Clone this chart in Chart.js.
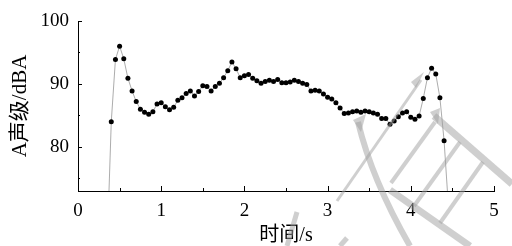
<!DOCTYPE html>
<html>
<head>
<meta charset="utf-8">
<script src="https://cdn.jsdelivr.net/npm/chart.js@4.4.1/dist/chart.umd.min.js"></script>
<style>
  html, body { margin: 0; padding: 0; background: #fff; }
  #wrap { width: 512px; height: 246px; }
</style>
</head>
<body>
<div id="wrap"><canvas id="chart" width="512" height="246"></canvas></div>
<script>
// time in seconds
const times = [
  0.35, 0.40, 0.45, 0.50, 0.55, 0.60, 0.65, 0.70, 0.75, 0.80,
  0.85, 0.90, 0.95, 1.00, 1.05, 1.10, 1.15, 1.20, 1.25, 1.30,
  1.35, 1.40, 1.45, 1.50, 1.55, 1.60, 1.65, 1.70, 1.75, 1.80,
  1.85, 1.90, 1.95, 2.00, 2.05, 2.10, 2.15, 2.20, 2.25, 2.30,
  2.35, 2.40, 2.45, 2.50, 2.55, 2.60, 2.65, 2.70, 2.75, 2.80,
  2.85, 2.90, 2.95, 3.00, 3.05, 3.10, 3.15, 3.20, 3.25, 3.30,
  3.35, 3.40, 3.45, 3.50, 3.55, 3.60, 3.65, 3.70, 3.75, 3.80,
  3.85, 3.90, 3.95, 4.00, 4.05, 4.10, 4.15, 4.20, 4.25, 4.30,
  4.35, 4.40, 4.45
];
// A-weighted level, dBA
const levels = [
  64.0, 84.0, 93.9, 96.0, 94.0, 90.9, 88.9, 87.2, 86.0, 85.5,
  85.2, 85.6, 86.8, 87.0, 86.4, 85.9, 86.3, 87.4, 87.8, 88.5,
  88.9, 88.1, 88.8, 89.7, 89.6, 88.9, 89.6, 90.1, 91.0, 92.1,
  93.5, 92.4, 91.0, 91.3, 91.5, 90.9, 90.5, 90.1, 90.4, 90.6,
  90.4, 90.7, 90.2, 90.2, 90.3, 90.6, 90.4, 90.1, 89.9, 88.9,
  89.0, 88.9, 88.4, 87.9, 87.6, 87.0, 86.2, 85.3, 85.4, 85.6,
  85.7, 85.5, 85.7, 85.6, 85.4, 85.2, 84.5, 84.5, 83.6, 84.1,
  84.8, 85.4, 85.6, 84.7, 84.4, 84.9, 87.7, 91.0, 92.5, 91.6,
  87.8, 81.0, 71.0
];

const xTicks = [0, 1, 2, 3, 4, 5];
const xMinorTicks = [0.5, 1.5, 2.5, 3.5, 4.5];
const yTicks = [80, 90, 100];
const yMinorTicks = [75, 85, 95];

const serif = "'Liberation Serif', 'Times New Roman', 'Noto Sans CJK SC', serif";

// inward ticks, like the original plot
const innerTicks = {
  id: "innerTicks",
  afterDraw(chart) {
    const { ctx, chartArea, scales } = chart;
    ctx.save();
    ctx.strokeStyle = "#000";
    ctx.lineWidth = 1;
    ctx.beginPath();
    xTicks.forEach((v) => {
      const x = Math.round(scales.x.getPixelForValue(v)) + 0.5;
      ctx.moveTo(x, chartArea.bottom);
      ctx.lineTo(x, chartArea.bottom - 5);
    });
    xMinorTicks.forEach((v) => {
      const x = Math.round(scales.x.getPixelForValue(v)) + 0.5;
      ctx.moveTo(x, chartArea.bottom);
      ctx.lineTo(x, chartArea.bottom - 3);
    });
    yTicks.forEach((v) => {
      const y = Math.round(scales.y.getPixelForValue(v)) + 0.5;
      ctx.moveTo(chartArea.left, y);
      ctx.lineTo(chartArea.left + 4, y);
    });
    yMinorTicks.forEach((v) => {
      const y = Math.round(scales.y.getPixelForValue(v)) + 0.5;
      ctx.moveTo(chartArea.left, y);
      ctx.lineTo(chartArea.left + 2, y);
    });
    ctx.stroke();
    ctx.restore();
  },
};

// faint grey logo that sits over the lower right of the plot
const watermark = {
  id: "watermark",
  afterDraw(chart) {
    const ctx = chart.ctx;
    ctx.save();
    ctx.strokeStyle = "rgba(160,160,160,0.5)";
    ctx.fillStyle = "rgba(160,160,160,0.5)";
    ctx.lineCap = "butt";
    const seg = (w, pts) => {
      ctx.lineWidth = w;
      ctx.beginPath();
      ctx.moveTo(pts[0], pts[1]);
      for (let i = 2; i < pts.length; i += 2) ctx.lineTo(pts[i], pts[i + 1]);
      ctx.stroke();
    };
    // long thin arrow
    seg(3, [421, 80, 337, 201]);
    ctx.beginPath();
    ctx.moveTo(424, 72); ctx.lineTo(416, 88); ctx.lineTo(411, 82); ctx.closePath();
    ctx.fill();
    // curved stroke
    ctx.lineWidth = 6;
    ctx.beginPath();
    ctx.moveTo(358, 122);
    ctx.quadraticCurveTo(372, 180, 410, 246);
    ctx.stroke();
    ctx.beginPath();
    ctx.moveTo(353, 120); ctx.lineTo(366, 114); ctx.lineTo(361, 132); ctx.closePath();
    ctx.fill();
    // ladder rails
    seg(7, [434, 116, 512, 184]);
    seg(7, [390, 190, 470, 246]);
    ctx.beginPath();
    ctx.moveTo(430, 112); ctx.lineTo(440, 108); ctx.lineTo(438, 124); ctx.closePath();
    ctx.fill();
    // rungs
    seg(4, [435, 122, 391, 183]);
    seg(4, [460, 142, 414, 206]);
    seg(4, [483, 162, 440, 223]);
    // small pieces near the axis title
    seg(5, [297, 212, 287, 246]);
    seg(5, [347, 238, 340, 246]);
    ctx.restore();
  },
};

new Chart(document.getElementById("chart"), {
  type: "scatter",
  data: {
    datasets: [
      {
        data: times.map((t, i) => ({ x: t, y: levels[i] })),
        showLine: true,
        borderColor: "#888",
        borderWidth: 0.7,
        pointRadius: 2.5,
        pointHoverRadius: 2.5,
        pointBackgroundColor: "#000",
        pointBorderWidth: 0,
      },
    ],
  },
  options: {
    responsive: false,
    animation: false,
    layout: { padding: { left: 0, right: 18, top: 21, bottom: 0 } },
    plugins: {
      legend: { display: false },
      tooltip: { enabled: false },
    },
    scales: {
      x: {
        type: "linear",
        min: 0,
        max: 5,
        afterBuildTicks: (s) => { s.ticks = xTicks.map((v) => ({ value: v })); },
        afterFit: (s) => { s.height = 55; },
        grid: { display: true, drawOnChartArea: false, drawTicks: false },
        border: { display: true, color: "#000", width: 1 },
        ticks: {
          color: "#000",
          padding: 9,
          maxRotation: 0,
          font: { family: serif, size: 19 },
        },
        title: {
          display: true,
          text: "时间/s",
          color: "#000",
          padding: { top: 0, bottom: 0 },
          font: { family: serif, size: 20, lineHeight: 1 },
        },
      },
      y: {
        type: "linear",
        min: 73,
        max: 100,
        afterBuildTicks: (s) => { s.ticks = yTicks.map((v) => ({ value: v })); },
        afterFit: (s) => { s.width = 78; },
        grid: { display: true, drawOnChartArea: false, drawTicks: false },
        border: { display: true, color: "#000", width: 1 },
        ticks: {
          color: "#000",
          padding: 9,
          font: { family: serif, size: 19 },
        },
        title: {
          display: true,
          text: "A声级/dBA",
          color: "#000",
          padding: { top: 9, bottom: 0 },
          font: { family: serif, size: 21, lineHeight: 1.1 },
        },
      },
    },
  },
  plugins: [innerTicks, watermark],
});
</script>
</body>
</html>
